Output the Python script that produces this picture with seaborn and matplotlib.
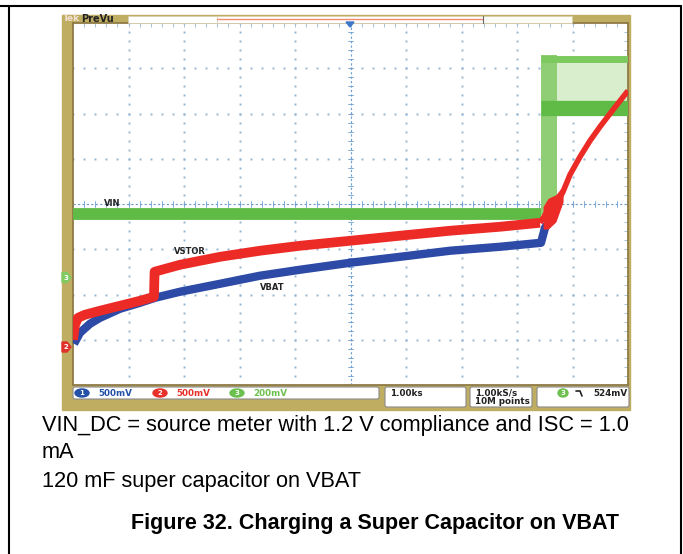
import matplotlib
matplotlib.use("Agg")
import matplotlib.pyplot as plt
import matplotlib.transforms as mtransforms
from matplotlib.patches import Rectangle, FancyBboxPatch, Polygon, Ellipse
from matplotlib.lines import Line2D
import numpy as np
import seaborn as sns

sns.set_style("white")
plt.rcParams['font.family'] = ['Liberation Sans', 'DejaVu Sans']

# scope settings: 1.00 ks/div, ch1/ch2 500 mV/div, ch3 200 mV/div
sec_per_div = 1000.0
ch_scale = {"1": 0.5, "2": 0.5, "3": 0.2}
ch_offset = {"1": -3.155, "2": -3.155, "3": -1.619}   # ground marker, in divisions

# VIN (ch3) in volts
vin_t = [0, 8430]
vin_v = [0.281, 0.281]
vin_sw_t = [8430, 10000]
vin_sw_hi = [0.966, 0.966]
vin_sw_lo = [0.749, 0.749]
vin_step_t = [8430, 8720]
vin_step_lo = [0.276, 0.276]
vin_step_hi = [0.983, 0.983]

# VSTOR (ch2) in volts
vstor_t = [0, 36, 90, 216, 486, 847, 1207, 1459, 1470, 1928, 2649, 3369,
           4090, 4991, 5892, 6793, 7694, 8414]
vstor_v = [0.077, 0.243, 0.32, 0.354, 0.398, 0.453, 0.508, 0.552, 0.829,
           0.906, 0.994, 1.061, 1.116, 1.171, 1.227, 1.282, 1.326, 1.370]
vstor2_t = [8414, 8500, 8559, 8703, 8829, 8955, 9135, 9315, 9495, 9730, 10000]
vstor2_v = [1.370, 1.45, 1.514, 1.558, 1.713, 1.901, 2.099, 2.276, 2.431, 2.619, 2.829]
burst_t = [8470, 8560, 8700, 8830]
burst_lo = [1.30, 1.30, 1.38, 1.60]
burst_hi = [1.55, 1.64, 1.68, 1.78]

# VBAT (ch1) in volts
vbat_t = [18, 126, 306, 486, 847, 1207, 1477, 1928, 2649, 3369, 4090, 4991,
          5892, 6793, 7694, 8432, 8505, 8600]
vbat_v = [0.033, 0.155, 0.254, 0.320, 0.420, 0.486, 0.541, 0.608, 0.696,
          0.785, 0.851, 0.928, 0.994, 1.061, 1.105, 1.149, 1.315, 1.40]


def div(v, ch):
    return [ch_offset[ch] + x / ch_scale[ch] for x in v]


W, H = 683, 554
fig = plt.figure(figsize=(W / 100, H / 100), dpi=100)
px = mtransforms.Affine2D().scale(1 / W, -1 / H).translate(0, 1) + fig.transFigure

gold = "#bfad62"
fig.add_artist(Rectangle((62, 15), 568, 395, transform=px, color=gold, zorder=0))

# top bar
fig.add_artist(Rectangle((128, 15.5), 89, 7, transform=px, fc="white", ec="#d8cfb0", lw=0.5))
fig.add_artist(Rectangle((217, 15.5), 266, 7, transform=px, fc="white", ec="#d8cfb0", lw=0.5))
fig.add_artist(Rectangle((483, 15.5), 89, 7, transform=px, fc="#fdfbf5", ec="#d8cfb0", lw=0.5))
fig.add_artist(Line2D([217, 483], [18.5, 18.5], transform=px, color="#f08a6a", lw=1.0))
fig.add_artist(Line2D([483, 483], [15.5, 22.5], transform=px, color="#666666", lw=0.8))
fig.text(63, 18.5, "Tek", transform=px, fontsize=6.5, fontweight="bold",
         color="#f3e2d6", va="center", family="DejaVu Sans")
fig.text(81, 18.5, "PreVu", transform=px, fontsize=7, fontweight="bold",
         color="#222222", va="center", family="DejaVu Sans")

# graticule
ax = fig.add_axes([73 / W, 1 - 385 / H, 555 / W, 362 / H])
ax.set_xlim(0, 10 * sec_per_div)
ax.set_ylim(-4, 4)
ax.set_facecolor("white")
for s in ax.spines.values():
    s.set_color("#8f7b45")
    s.set_linewidth(1.3)
ax.set_xticks(np.arange(0, 10001, 1000))
ax.set_xticks(np.arange(0, 10001, 200), minor=True)
ax.set_yticks(np.arange(-4, 4.01, 1))
ax.set_yticks(np.arange(-4, 4.01, 0.2), minor=True)
ax.tick_params(which="both", direction="in", top=True, right=True, length=3,
               width=0.6, color="#9ab8d2", labelbottom=False, labelleft=False)

gc = "#94b6d4"
for xg in range(1000, 10000, 1000):
    if xg == 5000:
        continue
    yy = np.arange(-4, 4.01, 0.2)
    ax.plot(np.full_like(yy, xg), yy, ls="none", marker="s", ms=1.4, color=gc, mew=0)
for yg in range(-3, 4):
    if yg == 0:
        continue
    xx = np.arange(0, 10001, 200)
    ax.plot(xx, np.full_like(xx, yg, dtype=float), ls="none", marker="s", ms=1.4, color=gc, mew=0)
ax.axvline(5000, color="#6d9dd0", lw=0.8, dashes=(2, 2))
ax.axhline(0, color="#6d9dd0", lw=0.8, dashes=(2, 2))
for xx in np.arange(0, 10001, 200):
    ax.plot([xx, xx], [-0.07, 0.07], color="#6d9dd0", lw=0.6)
for yy in np.arange(-4, 4.01, 0.2):
    ax.plot([4960, 5040], [yy, yy], color="#6d9dd0", lw=0.6)

# VIN traces
green = "#5fbb45"
butt = dict(sort=False, estimator=None, solid_capstyle="butt", solid_joinstyle="round")
ax.fill_between(vin_sw_t, div(vin_sw_lo, "3"), div(vin_sw_hi, "3"),
                color="#d9eecd", lw=0, zorder=2)
ax.fill_between(vin_step_t, div(vin_step_lo, "3"), div(vin_step_hi, "3"),
                color="#8fce74", lw=0, zorder=2)
sns.lineplot(x=vin_t, y=div(vin_v, "3"), ax=ax, color=green, lw=8.5, zorder=3, **butt)
sns.lineplot(x=vin_sw_t, y=div(vin_sw_hi, "3"), ax=ax, color="#7cc95f", lw=5, zorder=3, **butt)
sns.lineplot(x=vin_sw_t, y=div(vin_sw_lo, "3"), ax=ax, color=green, lw=11, zorder=3, **butt)

# VBAT and VSTOR traces
sns.lineplot(x=vbat_t, y=div(vbat_v, "1"), ax=ax, color="#2c4aa6", lw=6, zorder=4, **butt)
red = "#ec2a26"
sns.lineplot(x=vstor_t, y=div(vstor_v, "2"), ax=ax, color=red, lw=7, zorder=5, **butt)
sns.lineplot(x=vstor2_t, y=div(vstor2_v, "2"), ax=ax, color=red, lw=4, zorder=5, **butt)
ax.fill_between(burst_t, div(burst_lo, "2"), div(burst_hi, "2"), color=red, lw=0, zorder=5)

ax.set_xlabel("")
ax.set_ylabel("")
lab = dict(transform=px, fontsize=6, fontweight="bold", color="#222222",
           ha="center", va="center", family="DejaVu Sans", zorder=10)
fig.text(112, 203, "VIN", **lab)
fig.text(190, 252, "VSTOR", **lab)
fig.text(272, 287, "VBAT", **lab)

# trigger position marker
fig.add_artist(Polygon([(346, 22), (354, 22), (350, 27)], closed=True, transform=px,
                       color="#3d78c8", zorder=10))

# channel ground markers
for y0, c, n in [(277.5, "#7fcb62", "3"), (347, "#e0302a", "2")]:
    fig.add_artist(Polygon([(62, y0 - 5), (67, y0 - 5), (71, y0), (67, y0 + 5), (62, y0 + 5)],
                           closed=True, transform=px, color=c, zorder=10))
    fig.text(66, y0, n, transform=px, fontsize=5, fontweight="bold", color="white",
             ha="center", va="center", family="DejaVu Sans", zorder=11)

# status bar
for x0, y0, w, h in [(73, 387, 306, 12), (385, 387, 81, 20), (470, 387, 62, 20), (537, 387, 92, 20)]:
    fig.add_artist(FancyBboxPatch((x0 + 2, y0 + 2), w - 4, h - 4, boxstyle="round,pad=2",
                                  transform=px, fc="white", ec="#8a8a8a", lw=0.8))
st = dict(transform=px, fontsize=6.3, fontweight="bold", va="center", family="DejaVu Sans")
for xc, c, n, x_t, txt in [(82, "#2450a8", "1", 98, "500mV"),
                           (160, "#e8302a", "2", 176, "500mV"),
                           (237, "#6cc04e", "3", 253, "200mV")]:
    fig.add_artist(Ellipse((xc, 393), 14, 8, transform=px, color=c))
    fig.text(xc, 393, n, transform=px, fontsize=5, color="white", fontweight="bold",
             ha="center", va="center", family="DejaVu Sans")
    fig.text(x_t, 393, txt, color=c, **st)
fig.text(390, 393, "1.00ks", color="#222222", **st)
fig.text(475, 393, "1.00kS/s", color="#222222", **st)
fig.text(475, 402, "10M points", color="#222222", **st)
fig.add_artist(Ellipse((563, 393), 10, 8, transform=px, color="#6cc04e"))
fig.text(563, 393, "3", transform=px, fontsize=5, color="white", fontweight="bold",
         ha="center", va="center", family="DejaVu Sans")
fig.add_artist(Line2D([576, 580, 582], [391, 391, 396], transform=px, color="#222222", lw=1.2))
fig.text(593, 393, "524mV", color="#222222", **st)

# page frame and caption
for xs, ys in [([0, 681], [6, 6]), ([9, 9], [6, 554]), ([681, 681], [6, 554])]:
    fig.add_artist(Line2D(xs, ys, transform=px, color="black", lw=1.5))
cap = dict(transform=px, fontsize=15.7, color="black", va="center")
fig.text(42, 426, "VIN_DC = source meter with 1.2 V compliance and ISC = 1.0", **cap)
fig.text(42, 452, "mA", **cap)
fig.text(42, 481, "120 mF super capacitor on VBAT", **cap)
fig.text(131, 524, "Figure 32. Charging a Super Capacitor on VBAT", transform=px,
         fontsize=15.5, fontweight="bold", color="black", va="center")

fig.savefig("out.png", dpi=100)
